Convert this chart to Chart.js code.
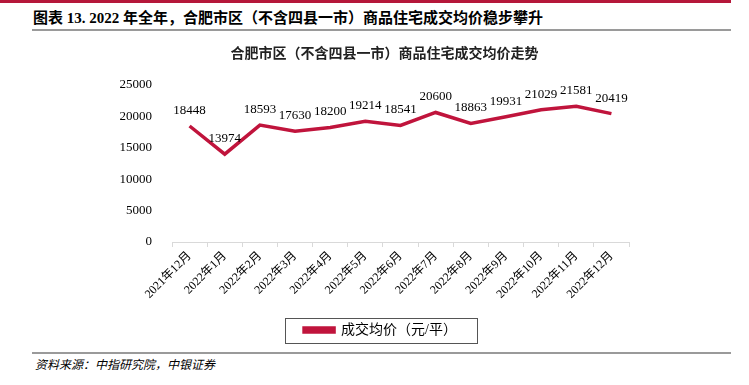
<!DOCTYPE html>
<html>
<head>
<meta charset="utf-8">
<script src="https://cdn.jsdelivr.net/npm/chart.js@4"></script>
<style>
  body { margin: 0; background: #fff; width: 749px; height: 385px; position: relative; overflow: hidden; }
  #topbar { position: absolute; left: 0; top: 0; width: 731px; height: 3px; background: #B5173A; }
  #pageTitle { position: absolute; left: 33px; top: 6px; font: bold 15px "Liberation Serif", "Noto Sans CJK SC", serif; color: #000; white-space: nowrap; }
  #titleRule { position: absolute; left: 32px; top: 29px; width: 699px; height: 2px; background: #9a9a9a; }
  #footRule { position: absolute; left: 32px; top: 352px; width: 699px; height: 2px; background: #9a9a9a; }
  #source { position: absolute; left: 35px; top: 355px; font: italic 12px "Liberation Serif", "Noto Sans CJK SC", serif; color: #000; white-space: nowrap; }
  #wrap { position: absolute; left: 0; top: 35px; width: 749px; height: 315px; }
</style>
</head>
<body>
<div id="topbar"></div>
<div id="pageTitle">图表 13. 2022 年全年，合肥市区（不含四县一市）商品住宅成交均价稳步攀升</div>
<div id="titleRule"></div>
<div id="wrap"><canvas id="myChart"></canvas></div>
<div id="footRule"></div>
<div id="source">资料来源：中指研究院，中银证券</div>
<script>
//月份标签
const months = ['2021年12月', '2022年1月', '2022年2月', '2022年3月', '2022年4月', '2022年5月', '2022年6月',
    '2022年7月', '2022年8月', '2022年9月', '2022年10月', '2022年11月', '2022年12月'];
//成交均价（元/平）
const prices = [18448, 13974, 18593, 17630, 18200, 19214, 18541, 20600, 18863, 19931, 21029, 21581, 20419];
const yTicks = [0, 5000, 10000, 15000, 20000, 25000];

const serif = '"Liberation Serif", "Noto Sans CJK SC", serif';
const lineColor = '#C0143C';

//数值标签
const valueLabels = {
    id: 'valueLabels',
    afterDatasetsDraw(chart) {
        const ctx = chart.ctx;
        const meta = chart.getDatasetMeta(0);
        ctx.save();
        ctx.font = '13px ' + serif;
        ctx.fillStyle = '#000';
        ctx.textAlign = 'center';
        ctx.textBaseline = 'bottom';
        meta.data.forEach((pt, i) => {
            ctx.fillText(prices[i], pt.x, pt.y - 9);
        });
        ctx.restore();
    }
};

//标题和图例稍微右移
const shiftBoxes = {
    id: 'shiftBoxes',
    afterLayout(chart) {
        const moveBox = (box, dx) => {
            box.left += dx;
            box.right += dx;
            if (box.legendHitBoxes) box.legendHitBoxes.forEach(h => { h.left += dx; });
        };
        moveBox(chart.titleBlock, 20);
        moveBox(chart.legend, 16);
    }
};

//图例外框
const legendBox = {
    id: 'legendBox',
    afterDraw(chart) {
        const boxes = chart.legend.legendHitBoxes;
        if (!boxes || !boxes.length) return;
        const b = boxes[0];
        const cx = b.left + b.width / 2;
        const cy = b.top + b.height / 2;
        const ctx = chart.ctx;
        ctx.save();
        ctx.strokeStyle = '#555';
        ctx.lineWidth = 1;
        ctx.strokeRect(Math.round(cx - 96) + 0.5, Math.round(cy - 12.5) + 0.5, 192, 25);
        ctx.restore();
    }
};

const ctx = document.getElementById('myChart').getContext('2d');
const myChart = new Chart(ctx, {
    type: 'line',
    data: {
        labels: months,
        datasets: [{
            label: '成交均价（元/平）',
            data: prices,
            borderColor: lineColor,
            backgroundColor: lineColor,
            borderWidth: 3.5,
            pointRadius: 0,
            tension: 0,
            fill: false
        }]
    },
    options: {
        responsive: true,
        maintainAspectRatio: false,
        animation: false,
        layout: { padding: { left: 100, right: 120, top: 0, bottom: 3 } },
        plugins: {
            title: {
                display: true,
                text: '合肥市区（不含四县一市）商品住宅成交均价走势',
                color: '#222',
                font: { family: serif, size: 14, weight: 'bold' },
                padding: { top: 11, bottom: 22 }
            },
            legend: {
                position: 'bottom',
                labels: {
                    boxWidth: 30,
                    boxHeight: 4,
                    color: '#000',
                    font: { family: serif, size: 14 },
                    padding: 10
                }
            },
            tooltip: { enabled: false }
        },
        scales: {
            x: {
                offset: true,
                afterFit(scale) { scale.height = 71; },
                grid: { offset: true, drawOnChartArea: false, drawTicks: true, tickLength: 5, color: '#d9d9d9' },
                border: { color: '#d9d9d9' },
                ticks: {
                    minRotation: 45,
                    maxRotation: 45,
                    autoSkip: false,
                    color: '#000',
                    font: { family: serif, size: 12 },
                    padding: 2
                }
            },
            y: {
                min: 0,
                max: 25000,
                afterFit(scale) { scale.width = 72; },
                afterBuildTicks(scale) { scale.ticks = yTicks.map(v => ({ value: v })); },
                grid: { display: false },
                border: { display: false },
                ticks: {
                    color: '#000',
                    font: { family: serif, size: 13 },
                    padding: 12,
                    callback: value => String(value)
                }
            }
        }
    },
    plugins: [valueLabels, shiftBoxes, legendBox]
});
</script>
</body>
</html>
